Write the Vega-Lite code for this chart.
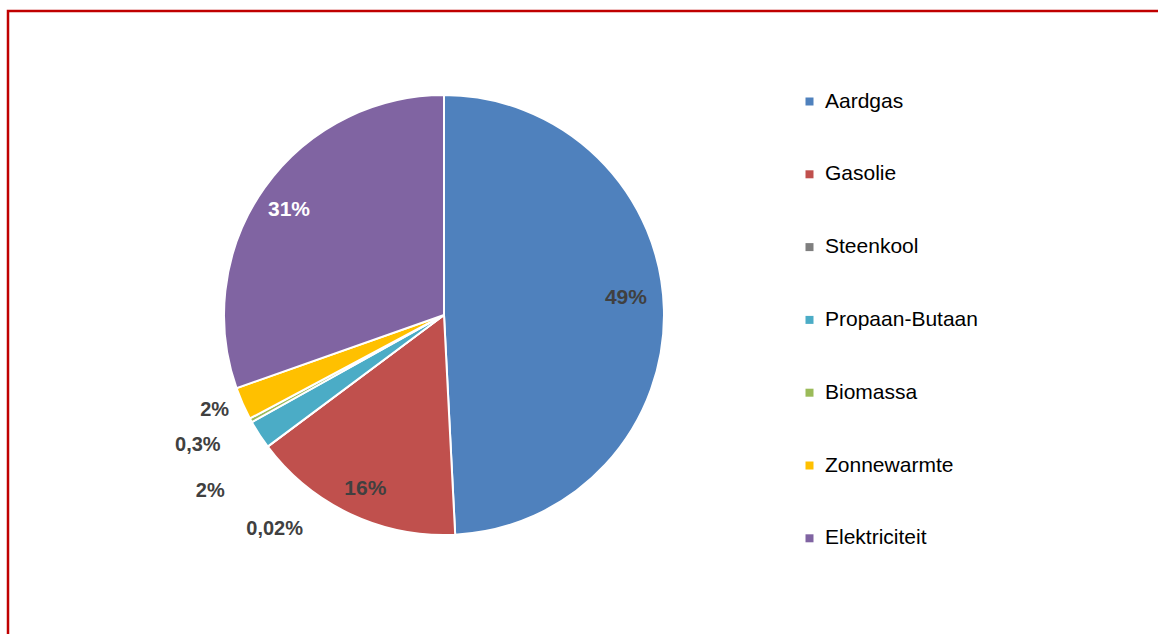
{
  "$schema": "https://vega.github.io/schema/vega-lite/v6.json",
  "width": 1160,
  "height": 630,
  "padding": {"left": 8, "top": 11, "right": 0, "bottom": 0},
  "autosize": {"type": "none"},
  "background": "white",
  "view": {"stroke": "#C00000", "strokeWidth": 2.5},
  "config": {
    "view": {"stroke": "#C00000", "strokeWidth": 2.5},
    "font": "Liberation Sans"
  },
  "data": {
    "values": [
      {"k": 1, "bron": "Aardgas", "waarde": 49.2, "label": "49%"},
      {"k": 2, "bron": "Gasolie", "waarde": 15.6, "label": "16%"},
      {"k": 3, "bron": "Steenkool", "waarde": 0.02, "label": "0,02%"},
      {"k": 4, "bron": "Propaan-Butaan", "waarde": 2.1, "label": "2%"},
      {"k": 5, "bron": "Biomassa", "waarde": 0.3, "label": "0,3%"},
      {"k": 6, "bron": "Zonnewarmte", "waarde": 2.4, "label": "2%"},
      {"k": 7, "bron": "Elektriciteit", "waarde": 30.4, "label": "31%"}
    ]
  },
  "encoding": {
    "theta": {"field": "waarde", "type": "quantitative", "stack": true},
    "order": {"field": "k", "type": "quantitative"}
  },
  "layer": [
    {
      "mark": {"type": "arc", "x": 436, "y": 304, "outerRadius": 220, "stroke": "white", "strokeWidth": 2},
      "encoding": {
        "color": {
          "field": "bron",
          "type": "nominal",
          "sort": ["Aardgas", "Gasolie", "Steenkool", "Propaan-Butaan", "Biomassa", "Zonnewarmte", "Elektriciteit"],
          "scale": {
            "domain": ["Aardgas", "Gasolie", "Steenkool", "Propaan-Butaan", "Biomassa", "Zonnewarmte", "Elektriciteit"],
            "range": ["#4F81BD", "#C0504D", "#7F7F7F", "#4BACC6", "#9BBB59", "#FFC000", "#8064A2"]
          },
          "legend": {
            "title": null,
            "orient": "none",
            "legendX": 791,
            "legendY": 80,
            "symbolType": "square",
            "symbolSize": 64,
            "symbolStrokeWidth": 0,
            "labelFontSize": 21,
            "labelColor": "#000000",
            "labelFont": "Liberation Sans",
            "labelOffset": 5,
            "rowPadding": 50.8,
            "padding": 0
          }
        }
      }
    },
    {
      "mark": {"type": "text", "x": 436, "y": 304, "radius": 185, "dx": -3, "dy": -12, "fontSize": 21, "fontWeight": "bold", "fill": "#404040"},
      "encoding": {
        "text": {"condition": {"test": "datum.bron === 'Aardgas'", "field": "label"}, "value": ""}
      }
    },
    {
      "mark": {"type": "text", "x": 436, "y": 304, "radius": 185, "dx": 0, "dy": 7, "fontSize": 21, "fontWeight": "bold", "fill": "#404040"},
      "encoding": {
        "text": {"condition": {"test": "datum.bron === 'Gasolie'", "field": "label"}, "value": ""}
      }
    },
    {
      "mark": {"type": "text", "x": 436, "y": 304, "radius": 185, "dx": -4, "dy": 2, "fontSize": 21, "fontWeight": "bold", "fill": "white"},
      "encoding": {
        "text": {"condition": {"test": "datum.bron === 'Elektriciteit'", "field": "label"}, "value": ""}
      }
    },
    {
      "mark": {"type": "text", "x": 436, "y": 304, "radius": 220, "dx": 7, "dy": 82, "fontSize": 20, "fontWeight": "bold", "fill": "#404040"},
      "encoding": {
        "text": {"condition": {"test": "datum.bron === 'Steenkool'", "field": "label"}, "value": ""}
      }
    },
    {
      "mark": {"type": "text", "x": 436, "y": 304, "radius": 220, "dx": -49, "dy": 56, "fontSize": 20, "fontWeight": "bold", "fill": "#404040"},
      "encoding": {
        "text": {"condition": {"test": "datum.bron === 'Propaan-Butaan'", "field": "label"}, "value": ""}
      }
    },
    {
      "mark": {"type": "text", "x": 436, "y": 304, "radius": 220, "dx": -53, "dy": 25, "fontSize": 20, "fontWeight": "bold", "fill": "#404040"},
      "encoding": {
        "text": {"condition": {"test": "datum.bron === 'Biomassa'", "field": "label"}, "value": ""}
      }
    },
    {
      "mark": {"type": "text", "x": 436, "y": 304, "radius": 220, "dx": -28, "dy": 6, "fontSize": 20, "fontWeight": "bold", "fill": "#404040"},
      "encoding": {
        "text": {"condition": {"test": "datum.bron === 'Zonnewarmte'", "field": "label"}, "value": ""}
      }
    }
  ]
}
